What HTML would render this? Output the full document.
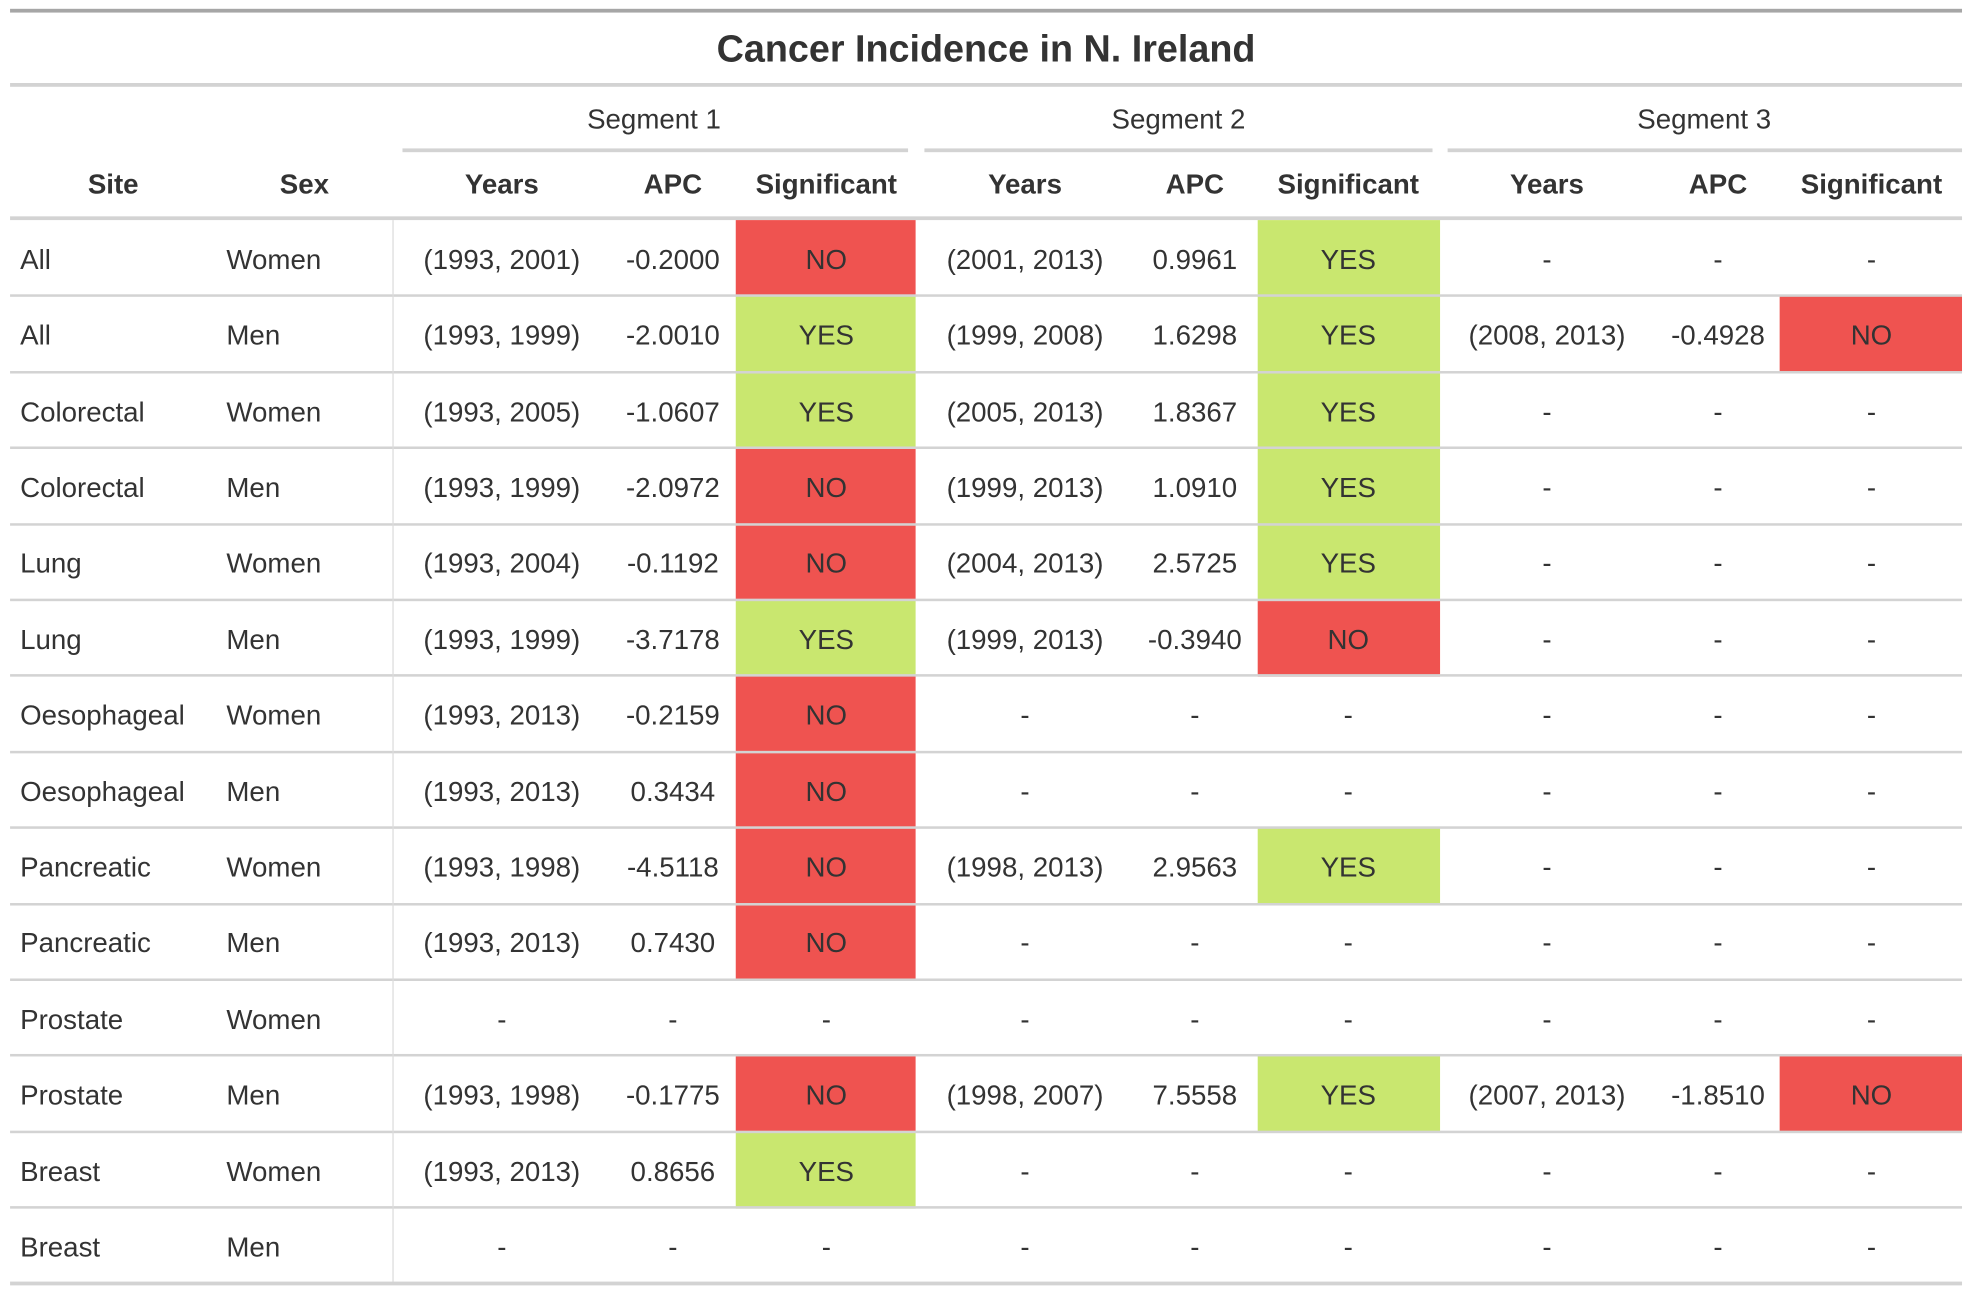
<!DOCTYPE html>
<html><head><meta charset="utf-8"><style>
html,body{margin:0;padding:0;background:#fff;width:1972px;height:1294px;overflow:hidden}
#wrap{position:absolute;left:0;top:0;width:1568px;height:1029px;transform:scale(1.2577);transform-origin:0 0;font-family:"Liberation Sans",sans-serif;color:#333}
.abs{position:absolute}
.t{position:absolute;white-space:nowrap;font-size:22px;line-height:24px;transform:translate(-50%,-50%)}
.l{transform:translate(0,-50%)}
.hr{position:absolute;background:#d3d3d3}
</style></head><body>
<div id="wrap">
<div class="hr" style="left:8px;top:7px;width:1552px;height:3px;background:#a6a6a6"></div>
<div class="t" style="left:784px;top:40px;font-size:30px;font-weight:bold">Cancer Incidence in N. Ireland</div>
<div class="hr" style="left:8px;top:66px;width:1552px;height:3px"></div>
<div class="t" style="left:520px;top:95px;font-size:22px">Segment 1</div>
<div class="t" style="left:937px;top:95px;font-size:22px">Segment 2</div>
<div class="t" style="left:1355px;top:95px;font-size:22px">Segment 3</div>
<div class="hr" style="left:320px;top:118px;width:402px;height:3px"></div>
<div class="hr" style="left:735px;top:118px;width:404px;height:3px"></div>
<div class="hr" style="left:1151px;top:118px;width:409px;height:3px"></div>
<div id="hdr"></div>
<div class="hr" style="left:8px;top:172px;width:1552px;height:3px"></div>
<div id="body"></div>
<div class="hr" style="left:312px;top:175px;width:1px;height:845px;background:#dcdcdc"></div>
<div class="hr" style="left:8px;top:1019px;width:1552px;height:3px"></div>
</div>
<script>
const sites=["All","All","Colorectal","Colorectal","Lung","Lung","Oesophageal","Oesophageal","Pancreatic","Pancreatic","Prostate","Prostate","Breast","Breast"];
const sexes=["Women","Men","Women","Men","Women","Men","Women","Men","Women","Men","Women","Men","Women","Men"];
const seg1Years=["(1993, 2001)","(1993, 1999)","(1993, 2005)","(1993, 1999)","(1993, 2004)","(1993, 1999)","(1993, 2013)","(1993, 2013)","(1993, 1998)","(1993, 2013)","-","(1993, 1998)","(1993, 2013)","-"];
const seg1APC=["-0.2000","-2.0010","-1.0607","-2.0972","-0.1192","-3.7178","-0.2159","0.3434","-4.5118","0.7430","-","-0.1775","0.8656","-"];
const seg1Sig=["NO","YES","YES","NO","NO","YES","NO","NO","NO","NO","-","NO","YES","-"];
const seg2Years=["(2001, 2013)","(1999, 2008)","(2005, 2013)","(1999, 2013)","(2004, 2013)","(1999, 2013)","-","-","(1998, 2013)","-","-","(1998, 2007)","-","-"];
const seg2APC=["0.9961","1.6298","1.8367","1.0910","2.5725","-0.3940","-","-","2.9563","-","-","7.5558","-","-"];
const seg2Sig=["YES","YES","YES","YES","YES","NO","-","-","YES","-","-","YES","-","-"];
const seg3Years=["-","(2008, 2013)","-","-","-","-","-","-","-","-","-","(2007, 2013)","-","-"];
const seg3APC=["-","-0.4928","-","-","-","-","-","-","-","-","-","-1.8510","-","-"];
const seg3Sig=["-","NO","-","-","-","-","-","-","-","-","-","NO","-","-"];
const headers=["Site","Sex","Years","APC","Significant","Years","APC","Significant","Years","APC","Significant"];

const hx=[90,242,399,535,657,815,950,1072,1230,1366,1488];
const hdr=document.getElementById('hdr');
headers.forEach((h,i)=>{
  const d=document.createElement('div');
  d.className='t';
  d.style.cssText=`left:${hx[i]}px;top:147px;font-weight:bold;font-size:22px`;
  d.textContent=h;
  
  
  hdr.appendChild(d);
});
const body=document.getElementById('body');
const top0=175,rh=60.4;
const sigCells=[[585,143,657],[1000,145,1072],[1415,145,1488]];
function txt(s,x,y,left,name){
  const d=document.createElement('div');
  d.className='t'+(left?' l':'');
  d.style.left=x+'px';d.style.top=y+'px';
  d.textContent=s;
  
  
  body.appendChild(d);
}
sites.forEach((s,i)=>{
  const y=top0+i*rh, cy=y+rh/2+1.5;
  const sigs=[seg1Sig[i],seg2Sig[i],seg3Sig[i]];
  sigs.forEach((v,k)=>{
    if(v==='YES'||v==='NO'){
      const c=document.createElement('div');
      c.className='abs';
      c.style.cssText=`left:${sigCells[k][0]}px;top:${y}px;width:${sigCells[k][1]}px;height:${rh+0.5}px;background:${v==='YES'?'#c9e76f':'#ef5350'}`;
      
      
      body.appendChild(c);
    }
  });
  if(i>0){
    const r=document.createElement('div');
    r.className='hr';
    r.style.cssText=`left:8px;top:${y-1}px;width:1552px;height:2px;background:#d3d3d3`;
    
    
    body.appendChild(r);
  }
  txt(s,16,cy,true,'site-cell');
  txt(sexes[i],180,cy,true,'sex-cell');
  const vals=[seg1Years[i],seg1APC[i],seg1Sig[i],seg2Years[i],seg2APC[i],seg2Sig[i],seg3Years[i],seg3APC[i],seg3Sig[i]];
  vals.forEach((v,k)=>txt(v,hx[k+2],cy,false,'value-cell'));
});
</script>
</body></html>
